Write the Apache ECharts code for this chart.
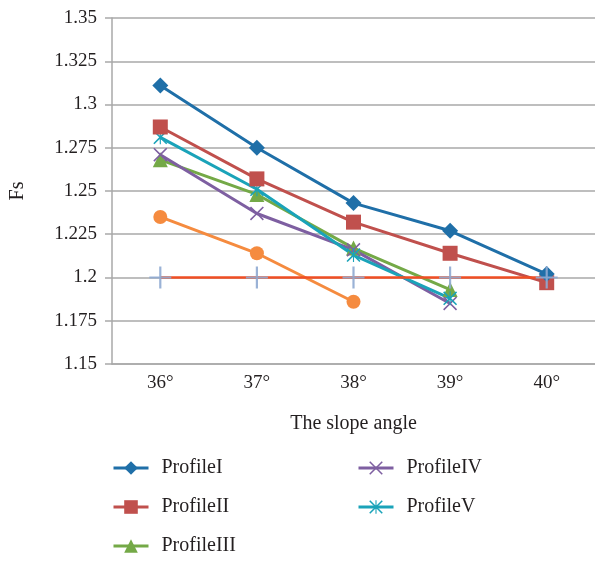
<!DOCTYPE html>
<html><head><meta charset="utf-8">
<script src="https://cdn.jsdelivr.net/npm/echarts@6/dist/echarts.min.js"></script>
<style>html,body{margin:0;padding:0;background:#fff}#c{width:595px;height:567px}</style>
</head><body><div id="c"></div>
<script>
const categories = ['36°','37°','38°','39°','40°'];
const profileI   = [1.311, 1.275, 1.243, 1.227, 1.202];
const profileII  = [1.287, 1.257, 1.232, 1.214, 1.197];
const profileIII = [1.268, 1.248, 1.217, 1.193, null];
const profileIV  = [1.271, 1.237, 1.216, 1.185, null];
const profileV   = [1.281, 1.251, 1.213, 1.188, null];
const orangeSeries = [1.235, 1.214, 1.186, null, null];
const thresholdLine = [1.2, 1.2, 1.2, 1.2, 1.2];
const yTicks = [1.15, 1.175, 1.2, 1.225, 1.25, 1.275, 1.3, 1.325, 1.35];

const FONT = '"Liberation Serif", "DejaVu Serif", serif';
const TXT = '#231f20';
const GRID = '#a9a9a9';

const xSym = 'path://M0,1.6L1.6,0L10,8.4L18.4,0L20,1.6L11.6,10L20,18.4L18.4,20L10,11.6L1.6,20L0,18.4L8.4,10Z';
const starSym = 'path://M0,1.6L1.6,0L10,8.4L18.4,0L20,1.6L11.6,10L20,18.4L18.4,20L10,11.6L1.6,20L0,18.4L8.4,10Z M9.2,0L10.8,0L10.8,20L9.2,20Z';
const plusSym = 'path://M9,0h2v9h9v2h-9v9h-2v-9h-9v-2h9z';

function mk(name, data, color, symbol, size) {
  return {
    name, type: 'line', data, symbol, symbolSize: size,
    lineStyle: { color, width: 3 },
    itemStyle: { color },
    connectNulls: false, animation: false
  };
}

const legendCommon = {
  orient: 'vertical', top: 458, padding: 0, itemWidth: 35, itemHeight: 17, itemGap: 19,
  lineStyle: { width: 3 },
  textStyle: { fontFamily: FONT, fontSize: 20, color: TXT, padding: [0, 0, 0, 8] }
};

const chart = echarts.init(document.getElementById('c'), null, { renderer: 'canvas' });
chart.setOption({
  animation: false,
  grid: { left: 111, top: 18, width: 492, bottom: 203, containLabel: false },
  xAxis: {
    type: 'category', data: categories, boundaryGap: true,
    name: 'The slope angle', nameLocation: 'middle', nameGap: 50,
    nameTextStyle: { fontFamily: FONT, fontSize: 20, color: TXT },
    axisLine: { show: true, lineStyle: { color: GRID, width: 1.5 } },
    axisTick: { show: false },
    axisLabel: { fontFamily: FONT, fontSize: 19, color: TXT, margin: 10 }
  },
  yAxis: {
    type: 'value', min: 1.15, max: 1.35, interval: 0.025,
    name: 'Fs', nameLocation: 'middle', nameGap: 84, nameRotate: 90,
    nameTextStyle: { fontFamily: FONT, fontSize: 20, color: TXT },
    axisLine: { show: true, lineStyle: { color: GRID, width: 1.5 } },
    axisTick: { show: true, length: 7, lineStyle: { color: GRID, width: 1.5 } },
    splitLine: { show: true, lineStyle: { color: GRID, width: 1.5 } },
    axisLabel: {
      fontFamily: FONT, fontSize: 19, color: TXT, margin: 15,
      formatter: v => { const t = yTicks.find(k => Math.abs(k - v) < 1e-6); return String(t !== undefined ? t : v); }
    }
  },
  legend: [
    Object.assign({ data: ['ProfileI', 'ProfileII', 'ProfileIII'], left: 112 }, legendCommon),
    Object.assign({ data: ['ProfileIV', 'ProfileV'], left: 357 }, legendCommon)
  ],
  series: [
    mk('Orange', orangeSeries, '#f58b3f', 'circle', 14),
    mk('ProfileIII', profileIII, '#74a947', 'triangle', 15),
    mk('ProfileIV', profileIV, '#7e5fa1', xSym, 14),
    mk('ProfileV', profileV, '#1aa3b9', starSym, 14),
    mk('ProfileII', profileII, '#c0504d', 'rect', 15),
    mk('ProfileI', profileI, '#1f6fa8', 'diamond', 16),
    {
      name: 'Threshold', type: 'line', data: thresholdLine, symbol: plusSym, symbolSize: 22,
      lineStyle: { color: '#f04e23', width: 2.5 },
      itemStyle: { color: 'rgba(143,170,210,0.9)' }, animation: false
    }
  ]
});
</script></body></html>
